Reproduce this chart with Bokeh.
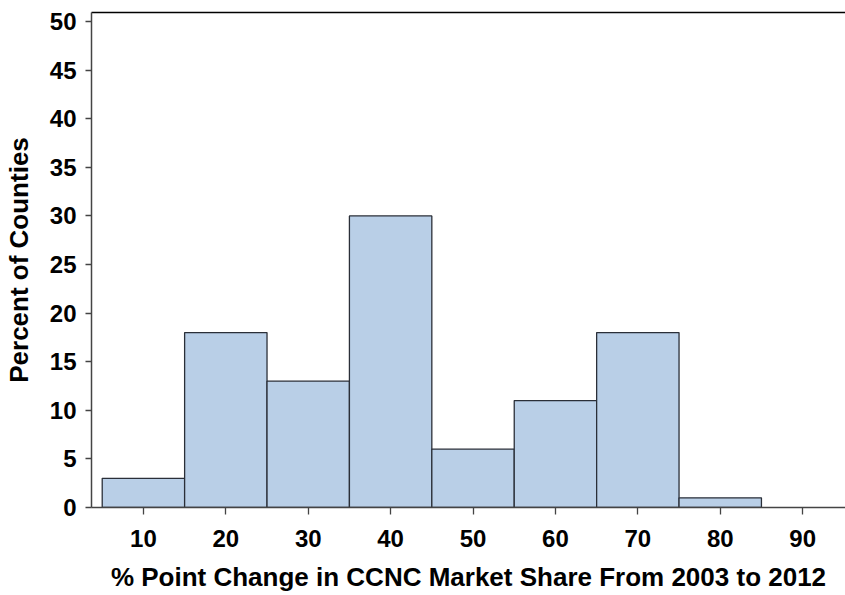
from bokeh.plotting import figure
from bokeh.models import LinearAxis, FixedTicker, Range1d
from bokeh.embed import file_html
from bokeh.resources import INLINE

bin_centers = [10, 20, 30, 40, 50, 60, 70, 80]
percents = [3, 18, 13, 30, 6, 11, 18, 1]
bin_width = 10
x_ticks = [10, 20, 30, 40, 50, 60, 70, 80, 90]
y_ticks = [0, 5, 10, 15, 20, 25, 30, 35, 40, 45, 50]

lefts = [c - bin_width / 2 for c in bin_centers]
rights = [c + bin_width / 2 for c in bin_centers]

FONT = "Liberation Sans"

p = figure(width=845, height=595, output_backend="svg", toolbar_location=None,
           x_range=Range1d(3.7, 95.2), y_range=Range1d(0, 50.93),
           min_border_left=89, min_border_right=0, min_border_top=12, min_border_bottom=88)

p.quad(left=lefts, right=rights, top=percents, bottom=0,
       fill_color="#b9cfe7", line_color="#2a2f38", line_width=1.3)

p.xgrid.visible = False
p.ygrid.visible = False
p.outline_line_color = None
p.background_fill_color = "white"
p.border_fill_color = "white"

xa = p.xaxis[0]
xa.ticker = FixedTicker(ticks=x_ticks)
xa.axis_label = "% Point Change in CCNC Market Share From 2003 to 2012"
ya = p.yaxis[0]
ya.ticker = FixedTicker(ticks=y_ticks)
ya.axis_label = "Percent of Counties"

for ax in (xa, ya):
    ax.major_label_text_font = FONT
    ax.major_label_text_font_style = "bold"
    ax.major_label_text_font_size = "24px"
    ax.major_label_text_color = "black"
    ax.axis_label_text_font = FONT
    ax.axis_label_text_font_style = "bold"
    ax.axis_label_text_font_size = "26px"
    ax.axis_label_text_color = "black"
    ax.minor_tick_line_color = None
    ax.major_tick_in = 0
    ax.axis_line_color = "#444444"
    ax.axis_line_width = 1.5
    ax.major_tick_line_color = "#444444"
    ax.major_tick_line_width = 1.3

xa.major_tick_out = 7
xa.major_label_standoff = 15
xa.axis_label_standoff = 12
ya.major_tick_out = 6
ya.major_label_standoff = 9
ya.axis_label_standoff = 13

top = LinearAxis(ticker=FixedTicker(ticks=[]), major_label_text_font_size="0px",
                 major_tick_out=0, major_tick_in=0, minor_tick_line_color=None,
                 axis_line_color="black", axis_line_width=1.6,
                 major_label_standoff=0)
p.add_layout(top, "above")

open("out.html", "w").write(file_html(p, INLINE))
